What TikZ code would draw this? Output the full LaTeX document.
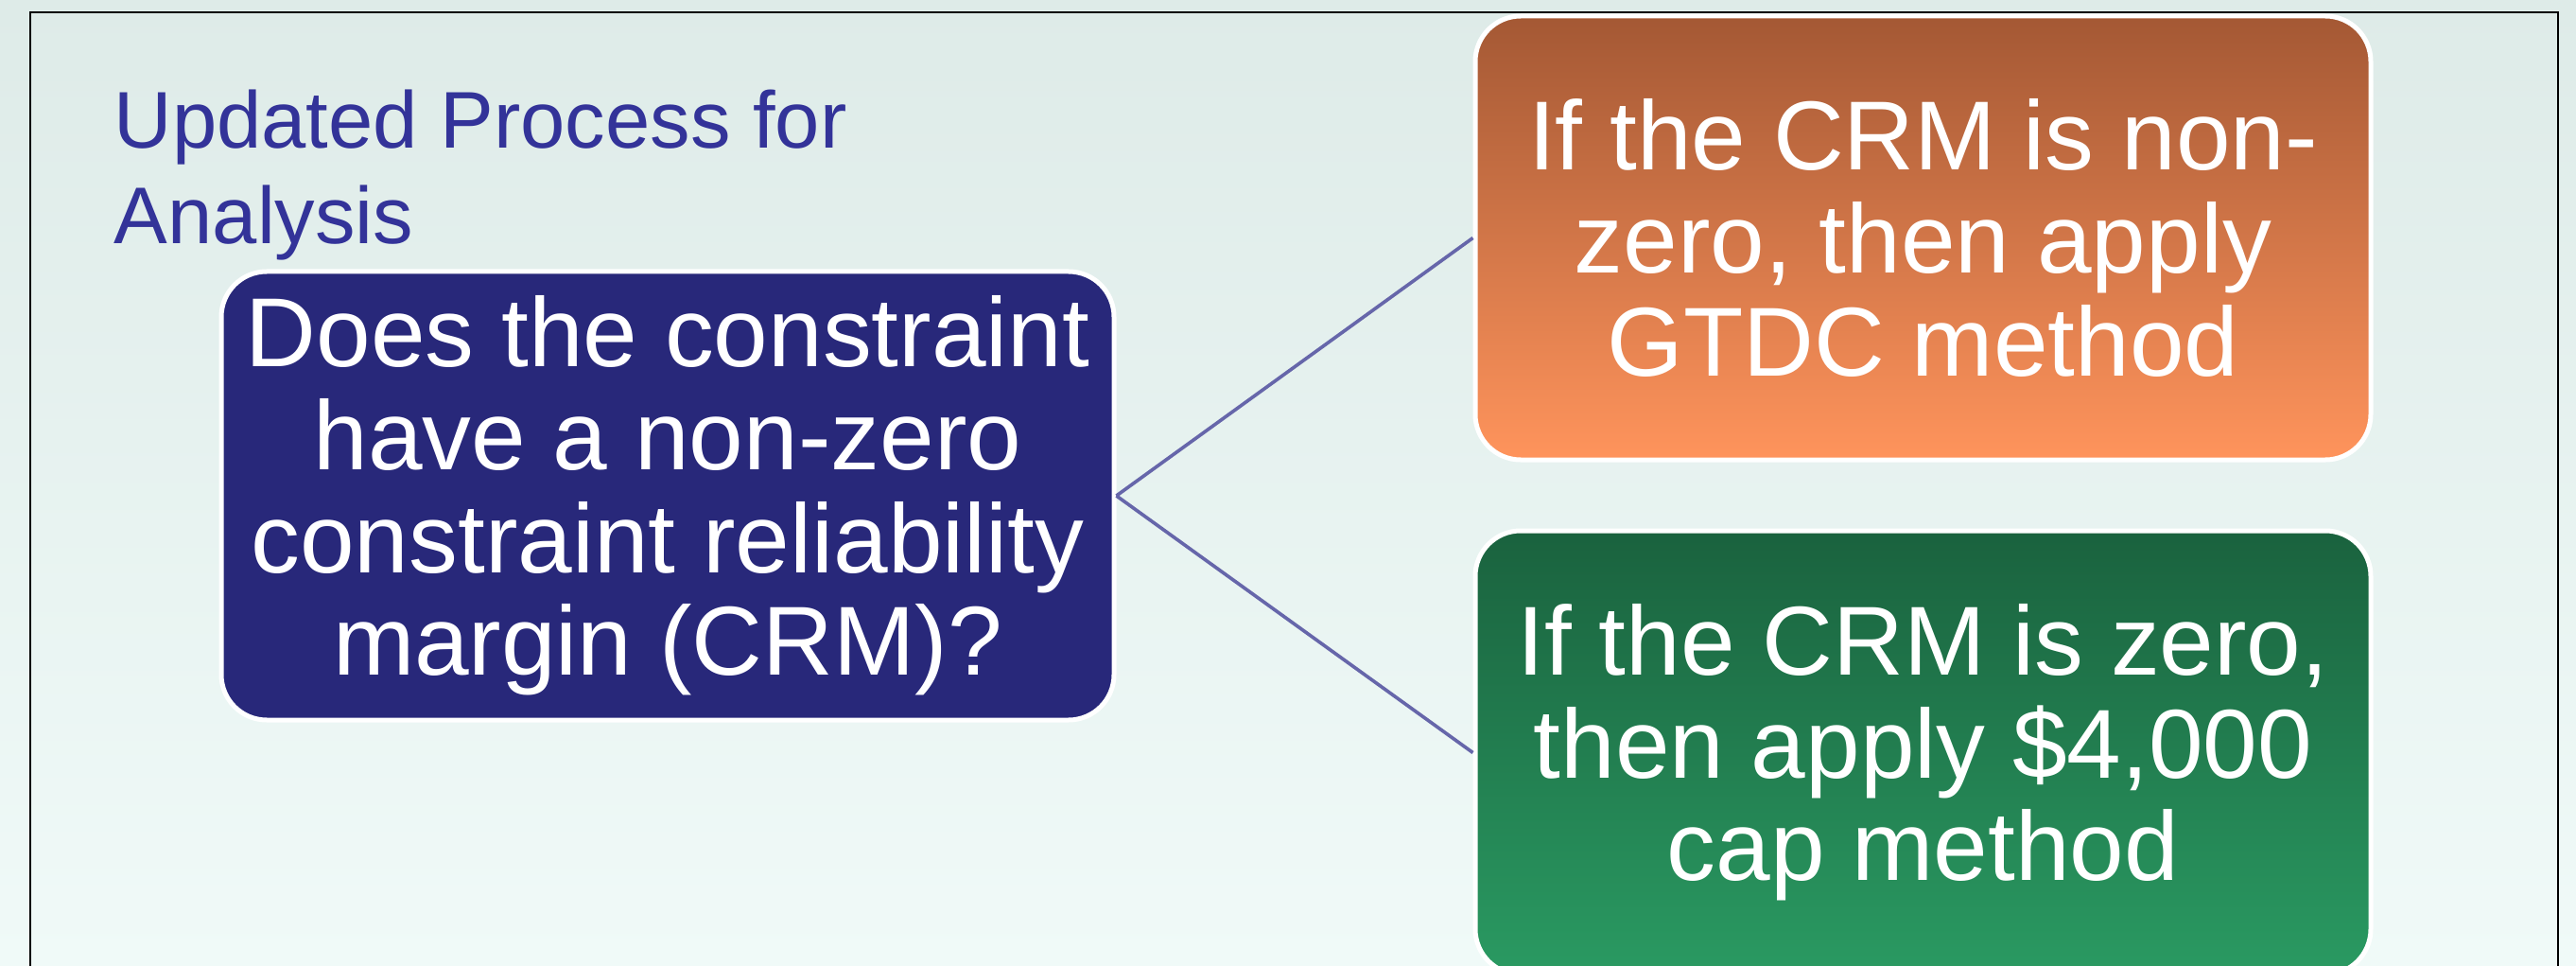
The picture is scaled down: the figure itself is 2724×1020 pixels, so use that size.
\documentclass[tikz,border=0pt]{standalone}
\usepackage{fontspec}
\setmainfont{Liberation Sans}
\usepackage{tikz}
\usetikzlibrary{shapes,arrows}
\definecolor{bgtop}{RGB}{222,235,232}
\definecolor{bgbot}{RGB}{240,250,248}
\definecolor{titleblue}{RGB}{51,51,153}
\definecolor{qblue}{RGB}{40,40,122}
\definecolor{orangetop}{RGB}{164,88,52}
\definecolor{orangebot}{RGB}{255,148,92}
\definecolor{greentop}{RGB}{26,98,62}
\definecolor{greenbot}{RGB}{42,154,98}
\definecolor{linkblue}{RGB}{102,102,170}

\begin{document}
\begin{tikzpicture}[x = 0.25pt, y = 0.25pt,
		crmbox/.style = {rectangle, rounded corners = 12pt, draw = white, line width = 1.25pt,
			inner sep = 0pt, align = center, text = white,
			font = \fontsize{25.9}{27.15}\selectfont},
		link/.style = {linkblue, line width = 0.9pt}]
		\useasboundingbox (0,0) rectangle (2724,1020);
		\shade[top color = bgtop, bottom color = bgbot] (0,0) rectangle (2724,1020);
		\draw[black, line width = 0.7pt] (32,-20) -- (32,1007) -- (2705,1007) -- (2705,-20);
		\node[anchor = north west, inner sep = 0pt, align = left, text = titleblue,
			font = \fontsize{21.25}{25.25}\selectfont] (title) at (120,926) {Updated Process for\\Analysis};
		\node[crmbox, fill = qblue, minimum width = 236pt, minimum height = 118.5pt] (question) at (706,496)
			{Does the constraint\\have a non-zero\\constraint reliability\\margin (CRM)?};
		\node[crmbox, top color = orangetop, bottom color = orangebot, minimum width = 236.75pt, minimum height = 117.25pt] (nonzero) at (2033.5,768.5)
			{If the CRM is non-\\zero, then apply\\GTDC method};
		\node[crmbox, top color = greentop, bottom color = greenbot, minimum width = 236.75pt, minimum height = 117.25pt] (zero) at (2033.5,224.5)
			{If the CRM is zero,\\then apply \$4,000\\cap method};
		\draw[link] (question.east) -- (nonzero.west);
		\draw[link] (question.east) -- (zero.west);
	\end{tikzpicture}
\end{document}
